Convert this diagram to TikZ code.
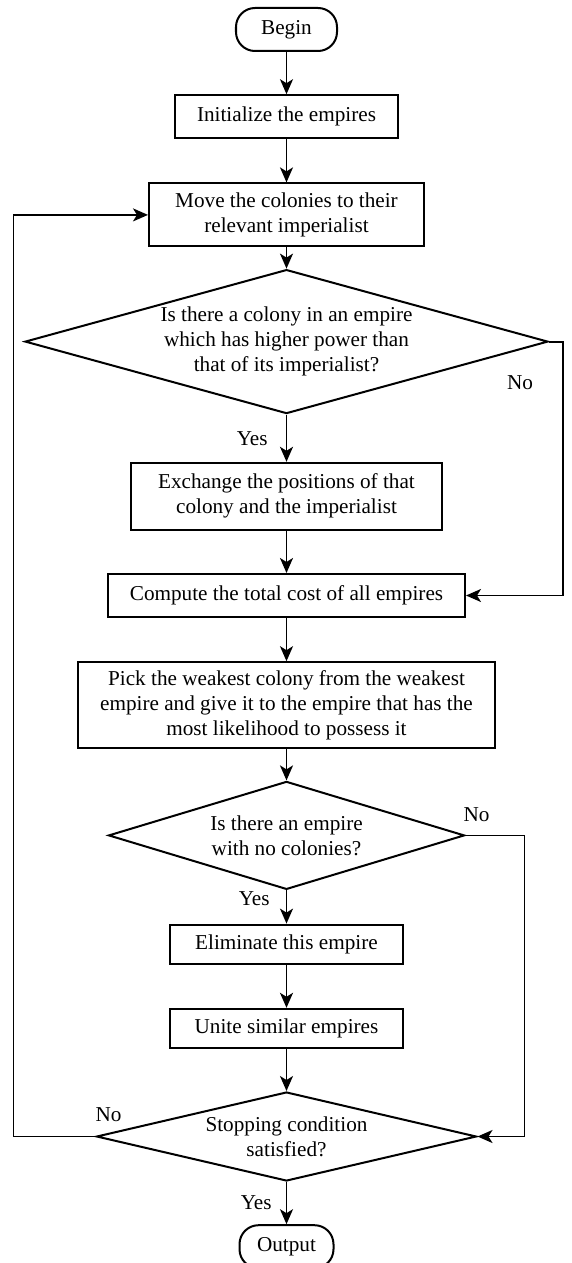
\documentclass[tikz,border=0pt]{standalone}
\usepackage{fontspec}
\setmainfont{Liberation Serif}
\usepackage{tikz}
\usetikzlibrary{shapes.geometric, arrows.meta, positioning}

\begin{document}
\begin{tikzpicture}[
    node distance=21.1pt,
    font=\fontsize{10.6pt}{12.5pt}\selectfont,
    box/.style={draw, line width=1pt, align=center, inner sep=0pt, minimum height=21.5pt},
    term/.style={box, rounded corners=9.5pt},
    cond/.style={draw, diamond, line width=1pt, align=center, inner sep=0pt},
    arr/.style={-{Stealth[length=7.5pt, width=6.5pt, inset=2pt]}, line width=0.9pt},
    lbl/.style={inner sep=0pt}
]
\useasboundingbox (-143.25pt,14.75pt) rectangle (142.75pt,-616.75pt);

\node[term, minimum width=50.5pt] (begin) at (0,0) {Begin};
\node[box, minimum width=111pt, below=of begin] (init) {Initialize the empires};
\node[box, minimum width=137.5pt, minimum height=31.5pt, below=21.6pt of init] (move) {Move the colonies to their\\relevant imperialist};
\node[cond, aspect=3.63, minimum width=261.5pt, minimum height=72pt, below=10.6pt of move] (d1) {Is there a colony in an empire\\which has higher power than\\that of its imperialist?};
\node[box, minimum width=155pt, minimum height=33.5pt, below=23.6pt of d1] (exch) {Exchange the positions of that\\colony and the imperialist};
\node[box, minimum width=178.5pt, below=of exch] (cost) {Compute the total cost of all empires};
\node[box, minimum width=208pt, minimum height=43pt, below=21.6pt of cost] (pick) {Pick the weakest colony from the weakest\\empire and give it to the empire that has the\\most likelihood to possess it};
\node[cond, aspect=3.3, minimum width=178pt, minimum height=54pt, below=15.6pt of pick] (d2) {Is there an empire\\with no colonies?};
\node[box, minimum width=116pt, minimum height=19.5pt, below=16.6pt of d2] (elim) {Eliminate this empire};
\node[box, minimum width=116pt, minimum height=19.5pt, below=21.6pt of elim] (unite) {Unite similar empires};
\node[cond, aspect=4.27, minimum width=190pt, minimum height=44.5pt, below=of unite] (d3) {Stopping condition\\satisfied?};
\node[term, minimum width=47pt, below=of d3] (out) {Output};

\node[lbl, xshift=-14.5pt, yshift=-20.5pt] (no1) at (d1.east) {No};
\node[lbl, xshift=5.5pt, yshift=10.5pt] (no2) at (d2.east) {No};
\node[lbl, xshift=6.5pt, yshift=11pt] (no3) at (d3.west) {No};

\draw[arr] (begin) -- (init);
\draw[arr] (init) -- (move);
\draw[arr] (move) -- (d1);
\draw[arr] (d1) -- node[lbl, left=9pt] (yes1) {Yes} (exch);
\draw[arr] (exch) -- (cost);
\draw[arr] (cost) -- (pick);
\draw[arr] (pick) -- (d2);
\draw[arr] (d2) -- node[lbl, pos=0.26, left=8pt] (yes2) {Yes} (elim);
\draw[arr] (elim) -- (unite);
\draw[arr] (unite) -- (d3);
\draw[arr] (d3) -- node[lbl, left=7pt] (yes3) {Yes} (out);

\draw[arr] (d1.east) -- ++(7pt,0) |- (cost.east);
\draw[arr] (d2.east) -- ++(29.5pt,0) |- (d3.east);
\draw[arr] (d3.west) -- ++(-41pt,0) |- (move.west);
\end{tikzpicture}
\end{document}
